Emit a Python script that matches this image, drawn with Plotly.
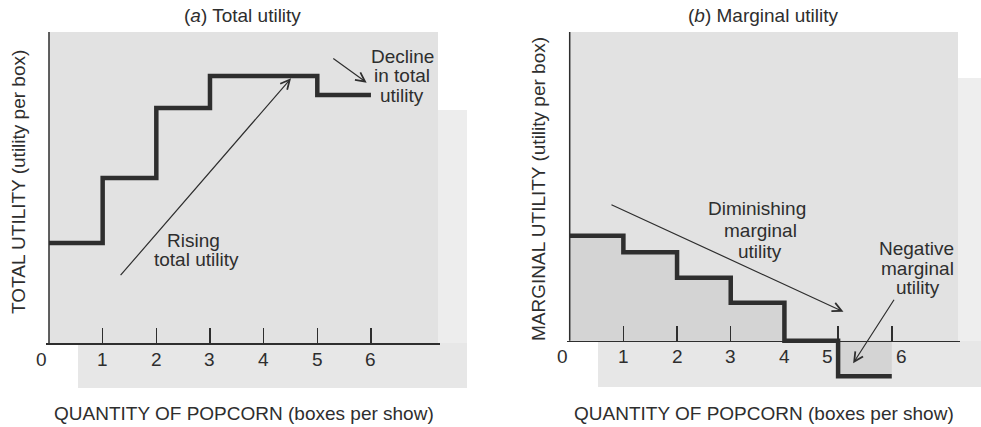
import plotly.graph_objects as go

# ---- data ----
boxes = [1, 2, 3, 4, 5, 6]
total_utility = [10.0, 16.5, 23.5, 26.7, 26.7, 24.8]
marginal_utility = [10.5, 8.85, 6.3, 3.8, 0.0, -3.55]
tick_values = [0, 1, 2, 3, 4, 5, 6]
tick_labels = ["0", "1", "2", "3", "4", "5", "6"]

W, H = 981, 427
INK = "#2e2e2e"
FONT = "Liberation Sans, Arial, Helvetica, sans-serif"
FS = 19


def px(x):
    return x / W


def py(y):
    return 1 - y / H


step_x = [b - 1 for b in boxes] + [boxes[-1]]
tu_y = total_utility + [total_utility[-1]]
mu_y = marginal_utility + [marginal_utility[-1]]

fig = go.Figure()
fig.add_trace(go.Scatter(
    x=step_x, y=tu_y, mode="lines",
    line=dict(shape="hv", color=INK, width=4.5),
    xaxis="x", yaxis="y", hoverinfo="skip", showlegend=False))
fig.add_trace(go.Scatter(
    x=step_x, y=mu_y, mode="lines",
    line=dict(shape="hv", color=INK, width=4.5),
    fill="tozeroy", fillcolor="#d4d4d4",
    xaxis="x2", yaxis="y2", hoverinfo="skip", showlegend=False))

# panel geometry (pixels)
L_x0, L_unit = 49.0, 53.66
R_x0, R_unit = 569.7, 53.68
pad = 0.05
L_axis_y, R_axis_y = 343.0, 340.7
top_px, bot_px = 32.0, 390.0
yu = 10.0  # px per utility unit

L_yrange = [(L_axis_y - bot_px) / yu, (L_axis_y - top_px) / yu]
R_yrange = [(R_axis_y - bot_px) / yu, (R_axis_y - top_px) / yu]

common_x = dict(showgrid=False, zeroline=False, showline=True, linecolor=INK,
                linewidth=1.5, ticks="inside", ticklen=15, tickwidth=1.5,
                tickcolor=INK, tickvals=tick_values[1:], showticklabels=False,
                anchor="free", fixedrange=True)
common_y = dict(showgrid=False, zeroline=False, showline=False,
                showticklabels=False, ticks="", fixedrange=True)

fig.update_layout(
    width=W, height=H, margin=dict(l=0, r=0, t=0, b=0),
    paper_bgcolor="white", plot_bgcolor="rgba(0,0,0,0)",
    font=dict(family=FONT, size=FS, color=INK),
    xaxis=dict(common_x, domain=[px(L_x0 - pad * L_unit), px(440)],
               range=[-pad, (440 - L_x0) / L_unit], position=py(L_axis_y)),
    yaxis=dict(common_y, domain=[py(bot_px), py(top_px)], range=L_yrange,
               anchor="x"),
    xaxis2=dict(common_x, domain=[px(R_x0 - pad * R_unit), px(960)],
                range=[-pad, (960 - R_x0) / R_unit], position=py(R_axis_y)),
    yaxis2=dict(common_y, domain=[py(bot_px), py(top_px)], range=R_yrange,
                anchor="x2"),
)

shapes = []
# scanned-page gray backgrounds (paper coords)
def rect(x0, y0, x1, y1, color):
    shapes.append(dict(type="rect", xref="paper", yref="paper",
                       x0=px(x0), x1=px(x1), y0=py(y1), y1=py(y0),
                       fillcolor=color, line=dict(width=0), layer="below"))

rect(438, 110, 467, 388, "#ededed")
rect(78, 343, 467, 388, "#e7e7e7")
rect(49, 32, 438, 343, "#e2e2e2")
rect(958, 78, 981, 386, "#eeeeee")
rect(598, 341, 981, 387, "#e7e7e7")
rect(569, 32, 958, 341, "#e2e2e2")

# vertical axis lines
shapes.append(dict(type="line", xref="x", yref="y", x0=0, x1=0, y0=0,
                   y1=L_yrange[1], line=dict(color=INK, width=1.5)))
shapes.append(dict(type="line", xref="x2", yref="y2", x0=0, x1=0, y0=0,
                   y1=R_yrange[1], line=dict(color=INK, width=1.5)))
fig.update_layout(shapes=shapes)

ann = []


def text(x, y, s, xref="paper", yref="paper", **kw):
    ann.append(dict(x=x, y=y, xref=xref, yref=yref, text=s, showarrow=False,
                    xanchor="center", yanchor="middle",
                    font=dict(family=FONT, size=FS, color=INK), **kw))


def arrow(x0, y0, x1, y1, xref, yref):
    ann.append(dict(x=x1, y=y1, ax=x0, ay=y0, xref=xref, yref=yref,
                    axref=xref, ayref=yref, text="", showarrow=True,
                    arrowhead=5, arrowsize=1.5, arrowwidth=1.2,
                    arrowcolor=INK, standoff=0))


# titles
text(px(242), py(15), "(<i>a</i>) Total utility")
text(px(763), py(15), "(<i>b</i>) Marginal utility")
text(px(244), py(413), "QUANTITY OF POPCORN (boxes per show)")
text(px(764), py(413), "QUANTITY OF POPCORN (boxes per show)")
text(px(18), py(182), "TOTAL UTILITY (utility per box)", textangle=-90)
text(px(538), py(189), "MARGINAL UTILITY (utility per box)", textangle=-90)

# tick labels
L_shift = {0: -7}
R_shift = {0: -7, 5: -11, 6: 10}
for v, lab in zip(tick_values, tick_labels):
    text(v, 0, lab, xref="x", yref="y", yshift=-16, xshift=L_shift.get(v, 0))
    text(v, 0, lab, xref="x2", yref="y2", yshift=-16, xshift=R_shift.get(v, 0))

# panel (a) notes
arrow(1.31, 6.63, 4.51, 26.47, "x", "y")
text(2.70, 10.3, "Rising", xref="x", yref="y")
text(2.75, 8.37, "total utility", xref="x", yref="y")
arrow(5.27, 28.57, 5.92, 26.03, "x", "y")
text(6.58, 28.6, "Decline", xref="x", yref="y")
text(6.58, 26.7, "in total", xref="x", yref="y")
text(6.58, 24.7, "utility", xref="x", yref="y")

# panel (b) notes
arrow(0.75, 13.67, 5.10, 2.9, "x2", "y2")
text(3.48, 13.24, "Diminishing", xref="x2", yref="y2")
text(3.55, 11.07, "marginal", xref="x2", yref="y2")
text(3.54, 8.9, "utility", xref="x2", yref="y2")
arrow(6.06, 4.24, 5.28, -2.26, "x2", "y2")
text(6.46, 9.24, "Negative", xref="x2", yref="y2")
text(6.48, 7.24, "marginal", xref="x2", yref="y2")
text(6.48, 5.34, "utility", xref="x2", yref="y2")

fig.update_layout(annotations=ann)
fig.write_html(
    "out.html",
    config={"displayModeBar": False, "staticPlot": True},
    post_script="document.body.style.margin='0px';"
                "document.body.style.padding='0px';"
                "document.body.style.overflow='hidden';",
)
